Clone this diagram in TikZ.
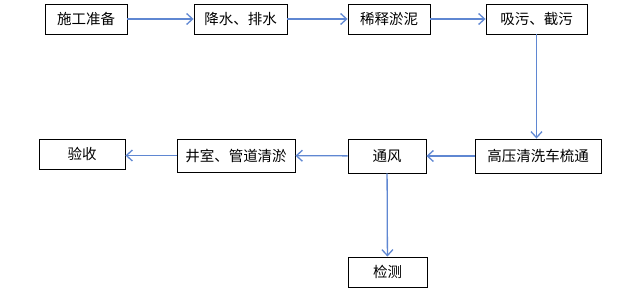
\documentclass[tikz,border=0pt]{standalone}
\usepackage{fontspec}
\setmainfont{Noto Sans CJK SC}
\usepackage{tikz}
\usetikzlibrary{arrows.meta}
\definecolor{flow}{HTML}{5F87D2}

\begin{document}
\begin{tikzpicture}[x=1pt, y=-1pt,
        step box/.style={draw, line width=0.9pt, inner sep=0pt, font=\fontsize{14.5}{16}\selectfont},
        flow arrow/.style={draw=flow, line width=1.3pt, -{Straight Barb[length=6pt, width=11pt]}},
      ]
        \useasboundingbox (0,0) rectangle (633,291);
        \node[step box, minimum width=82pt, minimum height=30pt] (prep) at (86, 19) {施工准备};
        \node[step box, minimum width=93pt, minimum height=30pt] (drain) at (240.5, 19) {降水、排水};
        \node[step box, minimum width=82pt, minimum height=30pt] (dilute) at (389, 19) {稀释淤泥};
        \node[step box, minimum width=101pt, minimum height=30pt] (suck) at (536.5, 19) {吸污、截污};
        \node[step box, minimum width=126pt, minimum height=34pt] (jet) at (538, 156) {高压清洗车梳通};
        \node[step box, minimum width=78pt, minimum height=34pt] (vent) at (387, 156) {通风};
        \node[step box, minimum width=118pt, minimum height=33pt] (well) at (236, 155.5) {井室、管道清淤};
        \node[step box, minimum width=86pt, minimum height=30pt] (accept) at (82, 154) {验收};
        \node[step box, minimum width=79pt, minimum height=30pt] (test) at (387.5, 272) {检测};
        \draw[flow arrow] (prep) -- (drain);
        \draw[flow arrow] (drain) -- (dilute);
        \draw[flow arrow] (dilute) -- (suck);
        \draw[flow arrow] (suck.south) -- (suck.south |- jet.north);
        \draw[flow arrow] (jet) -- (vent);
        \draw[flow arrow] (vent) -- (well);
        \draw[flow arrow] (well.west) -- (accept.east |- well.west);
        \draw[flow arrow] (vent) -- (test);
      \end{tikzpicture}
\end{document}
